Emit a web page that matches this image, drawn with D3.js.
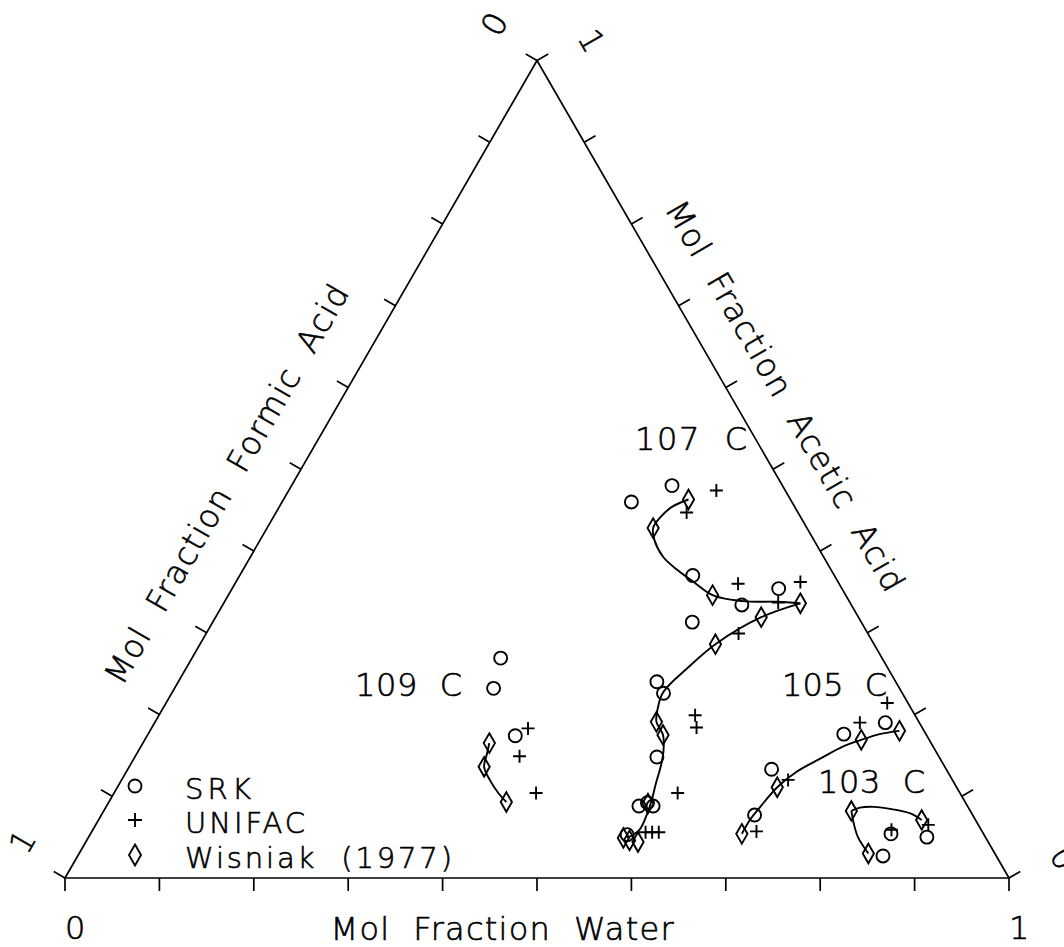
<!DOCTYPE html>
<html>
<head>
<meta charset="utf-8">
<title>Formic acid – acetic acid – water boiling isotherms</title>
<script src="https://cdn.jsdelivr.net/npm/d3@7/dist/d3.min.js"></script>
<style>
  html, body { margin: 0; padding: 0; background: #fff; }
  svg { display: block; }
  text {
    font-family: "DejaVu Sans", "Liberation Sans", sans-serif;
    font-weight: 200;
    font-size: 32px;
    fill: #000;
    stroke: #000;
    stroke-width: 0.6px;
    white-space: pre;
  }
  text.legend-label { font-size: 29px; }
</style>
</head>
<body>
<svg id="chart" width="1064" height="947"></svg>
<script>
// ---------------------------------------------------------------------------
// Data. Every composition is [mole fraction water, mole fraction acetic acid];
// the formic acid fraction is the remainder 1 - water - acetic.
// ---------------------------------------------------------------------------
const tickValues = [0, 0.1, 0.2, 0.3, 0.4, 0.5, 0.6, 0.7, 0.8, 0.9, 1];
const endTickValues = [0, 1];

const axisTitles = ["Mol  Fraction  Water", "Mol  Fraction  Formic  Acid", "Mol  Fraction  Acetic  Acid"];
const legendNames = ["SRK", "UNIFAC", "Wisniak  (1977)"];
const isothermNames = ["107  C", "109  C", "105  C", "103  C"];

// 107 C
const srk107 = [[0.370, 0.460], [0.403, 0.480], [0.480, 0.370], [0.550, 0.334], [0.579, 0.354],
  [0.508, 0.313], [0.507, 0.240], [0.521, 0.226], [0.553, 0.148], [0.564, 0.088],
  [0.571, 0.092], [0.579, 0.088], [0.569, 0.053]];
const unifac107 = [[0.453, 0.474], [0.435, 0.447], [0.533, 0.360], [0.587, 0.337], [0.598, 0.362],
  [0.564, 0.299], [0.568, 0.199], [0.577, 0.184], [0.597, 0.104], [0.587, 0.056],
  [0.594, 0.056], [0.601, 0.056]];
const wisniak107 = [[0.429, 0.463], [0.409, 0.428], [0.513, 0.346], [0.611, 0.336], [0.578, 0.319],
  [0.546, 0.286], [0.531, 0.191], [0.546, 0.175], [0.572, 0.091], [0.567, 0.049],
  [0.575, 0.046], [0.585, 0.044]];
const curve107Upper = [[0.429, 0.463], [0.416, 0.454], [0.410, 0.441], [0.409, 0.428], [0.418, 0.413],
  [0.437, 0.393], [0.460, 0.377], [0.485, 0.362], [0.513, 0.346], [0.538, 0.340],
  [0.557, 0.338], [0.585, 0.338], [0.611, 0.336]];
const curve107Lower = [[0.611, 0.336], [0.578, 0.319], [0.546, 0.286], [0.532, 0.259], [0.520, 0.227],
  [0.525, 0.205], [0.531, 0.191], [0.546, 0.175], [0.556, 0.156], [0.563, 0.136],
  [0.568, 0.116], [0.574, 0.095], [0.578, 0.075], [0.579, 0.059], [0.571, 0.049]];

// 109 C
const srk109 = [[0.327, 0.269], [0.338, 0.232], [0.390, 0.174]];
const unifac109 = [[0.399, 0.183], [0.407, 0.149], [0.447, 0.104]];
const wisniak109 = [[0.367, 0.165], [0.376, 0.136], [0.421, 0.093]];
const curve109 = [[0.367, 0.165], [0.371, 0.152], [0.376, 0.136], [0.390, 0.120], [0.407, 0.104], [0.421, 0.093]];

// 105 C
const srk105 = [[0.774, 0.190], [0.737, 0.176], [0.682, 0.133], [0.692, 0.077]];
const unifac105 = [[0.764, 0.214], [0.747, 0.190], [0.706, 0.120], [0.704, 0.057]];
const wisniak105 = [[0.690, 0.054], [0.699, 0.111], [0.759, 0.169], [0.794, 0.180]];
const curve105 = [[0.690, 0.054], [0.690, 0.071], [0.693, 0.087], [0.699, 0.111], [0.710, 0.130],
  [0.727, 0.146], [0.744, 0.161], [0.759, 0.169], [0.775, 0.176], [0.794, 0.180]];

// 103 C
const srk103 = [[0.888, 0.050], [0.848, 0.054], [0.853, 0.027]];
const unifac103 = [[0.882, 0.065], [0.846, 0.059]];
const wisniak103 = [[0.792, 0.082], [0.872, 0.071], [0.836, 0.030]];
const curve103Lower = [[0.836, 0.030], [0.815, 0.050], [0.802, 0.067], [0.792, 0.082]];
const curve103Upper = [[0.792, 0.082], [0.799, 0.086], [0.813, 0.087], [0.835, 0.084], [0.856, 0.079], [0.872, 0.071]];

// ---------------------------------------------------------------------------
// Layout
// ---------------------------------------------------------------------------
const svg = d3.select("#chart");
const side = 944;
const left = 65, base = 878;
const cos30 = Math.sqrt(3) / 2;

// Horizontal position follows water + acetic/2, vertical follows acetic.
const xScale = d3.scaleLinear().domain([0, 1]).range([left, left + side]);
const yScale = d3.scaleLinear().domain([0, 1]).range([base, base - side * cos30]);
const project = ([w, a]) => [xScale(w + a / 2), yScale(a)];

const ink = "#000";

// Triangle frame: pure formic (bottom left), pure water (bottom right), pure acetic (top)
svg.append("path")
  .attr("d", d3.line()([project([0, 0]), project([1, 0]), project([0, 1])]) + "Z")
  .attr("fill", "none")
  .attr("stroke", ink)
  .attr("stroke-width", 1.7)
  .attr("stroke-linejoin", "miter");

// The three composition axes, each with its outward normal and text angle
const axes = [
  { at: t => project([t, 0]), normal: [0, 1], angle: 0, labelOff: 50,
    title: axisTitles[0], titleAt: 0.463, titleOff: 51, titleLen: 343 },
  { at: t => project([0, 1 - t]), normal: [-cos30, -0.5], angle: -60, labelOff: 55,
    title: axisTitles[1], titleAt: 0.553, titleOff: 57, titleLen: 455 },
  { at: t => project([1 - t, t]), normal: [cos30, -0.5], angle: 60, labelOff: 57,
    title: axisTitles[2], titleAt: 0.561, titleOff: 47, titleLen: 445 }
];

const tickLen = 13;

axes.forEach(ax => {
  const g = svg.append("g");
  g.selectAll("line")
    .data(tickValues)
    .join("line")
    .attr("x1", t => ax.at(t)[0])
    .attr("y1", t => ax.at(t)[1])
    .attr("x2", t => ax.at(t)[0] + ax.normal[0] * tickLen)
    .attr("y2", t => ax.at(t)[1] + ax.normal[1] * tickLen)
    .attr("stroke", ink)
    .attr("stroke-width", 1.7);

  g.selectAll("text.tick")
    .data(endTickValues)
    .join("text")
    .attr("class", "tick")
    .attr("transform", t => {
      const p = ax.at(t);
      return `translate(${p[0] + ax.normal[0] * ax.labelOff},${p[1] + ax.normal[1] * ax.labelOff}) rotate(${ax.angle})`;
    })
    .attr("text-anchor", "start")
    .attr("dominant-baseline", "central")
    .text(d3.format("d"));

  const p = ax.at(ax.titleAt);
  g.append("text")
    .attr("transform", `translate(${p[0] + ax.normal[0] * ax.titleOff},${p[1] + ax.normal[1] * ax.titleOff}) rotate(${ax.angle})`)
    .attr("text-anchor", "middle")
    .attr("dominant-baseline", "central")
    .attr("textLength", ax.titleLen)
    .attr("lengthAdjust", "spacing")
    .text(ax.title);
});

// ---------------------------------------------------------------------------
// Isotherms
// ---------------------------------------------------------------------------
const curveLine = d3.line()
  .x(d => project(d)[0])
  .y(d => project(d)[1])
  .curve(d3.curveCatmullRom.alpha(0.5));

const circlePath = d3.symbol(d3.symbolCircle, Math.PI * 6.5 * 6.5)();
const diamondPath = d3.symbol(d3.symbolDiamond, 110)();
const plusPath = r => `M${-r},0H${r}M0,${-r}V${r}`;

const markers = {
  srk: circlePath,
  unifac: plusPath(6.5),
  wisniak: diamondPath
};

const isotherms = [
  { name: isothermNames[0], curves: [curve107Upper, curve107Lower], srk: srk107, unifac: unifac107, wisniak: wisniak107, label: [635, 450], len: 112 },
  { name: isothermNames[1], curves: [curve109], srk: srk109, unifac: unifac109, wisniak: wisniak109, label: [355, 696], len: 107 },
  { name: isothermNames[2], curves: [curve105], srk: srk105, unifac: unifac105, wisniak: wisniak105, label: [782, 696], len: 105 },
  { name: isothermNames[3], curves: [curve103Lower, curve103Upper], srk: srk103, unifac: unifac103, wisniak: wisniak103, label: [818, 793], len: 107 }
];

const plot = svg.append("g");

isotherms.forEach(iso => {
  const g = plot.append("g");

  g.selectAll("path.curve")
    .data(iso.curves)
    .join("path")
    .attr("class", "curve")
    .attr("d", curveLine)
    .attr("fill", "none")
    .attr("stroke", ink)
    .attr("stroke-width", 1.9);

  ["srk", "unifac", "wisniak"].forEach(key => {
    g.selectAll(`path.${key}`)
      .data(iso[key])
      .join("path")
      .attr("class", key)
      .attr("transform", d => `translate(${project(d)[0]},${project(d)[1]})`)
      .attr("d", markers[key])
      .attr("fill", "none")
      .attr("stroke", ink)
      .attr("stroke-width", 1.9);
  });

  g.append("text")
    .attr("x", iso.label[0])
    .attr("y", iso.label[1])
    .attr("textLength", iso.len)
    .attr("lengthAdjust", "spacing")
    .text(iso.name);
});

// ---------------------------------------------------------------------------
// Legend
// ---------------------------------------------------------------------------
const legendKeys = ["srk", "unifac", "wisniak"];
const legendRows = [786, 820, 855];
const legendLens = [66, 120, 267];
const legend = svg.append("g");

legend.selectAll("path")
  .data(legendKeys)
  .join("path")
  .attr("transform", (k, i) => `translate(135,${legendRows[i]})`)
  .attr("d", k => k === "wisniak" ? d3.symbol(d3.symbolDiamond, 125)() : (k === "unifac" ? plusPath(7) : circlePath))
  .attr("fill", "none")
  .attr("stroke", ink)
  .attr("stroke-width", 1.9);

legend.selectAll("text")
  .data(legendNames)
  .join("text")
  .attr("class", "legend-label")
  .attr("x", 185)
  .attr("y", (d, i) => legendRows[i] + 13)
  .attr("textLength", (d, i) => legendLens[i])
  .attr("lengthAdjust", "spacing")
  .text(d => d);
</script>
</body>
</html>
